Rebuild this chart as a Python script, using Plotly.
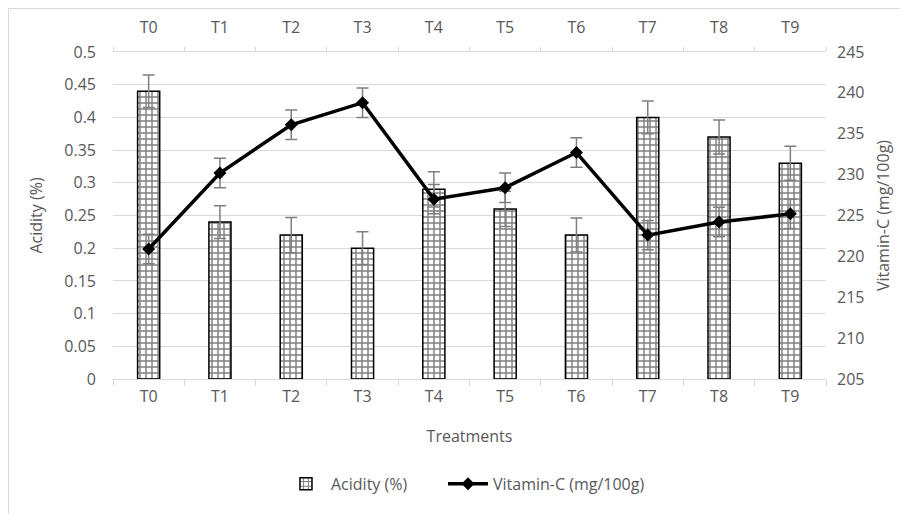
import plotly.graph_objects as go

treatments = ["T0", "T1", "T2", "T3", "T4", "T5", "T6", "T7", "T8", "T9"]
acidity = [0.44, 0.24, 0.22, 0.20, 0.29, 0.26, 0.22, 0.40, 0.37, 0.33]
acidity_err = [0.025, 0.025, 0.027, 0.025, 0.027, 0.027, 0.026, 0.025, 0.026, 0.026]
vitamin_c = [220.9, 230.2, 236.1, 238.8, 227.0, 228.4, 232.7, 222.6, 224.2, 225.2]
vitamin_err = [1.8, 1.8, 1.8, 1.8, 1.8, 1.8, 1.8, 1.8, 1.8, 1.8]

left_ticks = [0, 0.05, 0.1, 0.15, 0.2, 0.25, 0.3, 0.35, 0.4, 0.45, 0.5]
left_labels = ["0", "0.05", "0.1", "0.15", "0.2", "0.25", "0.3", "0.35", "0.4", "0.45", "0.5"]
right_ticks = [205, 210, 215, 220, 225, 230, 235, 240, 245]
right_labels = ["205", "210", "215", "220", "225", "230", "235", "240", "245"]

GRAY = "#595959"
GRID = "#d9d9d9"
ERR = "#7f7f7f"
FONT = dict(family="'Open Sans', Lato, sans-serif", size=16, color=GRAY)

fig = go.Figure()
fig.add_trace(go.Bar(
    x=treatments, y=acidity, name="Acidity (%)",
    marker=dict(color="white", line=dict(color="black", width=1.5),
                pattern=dict(shape="+", size=6, solidity=0.42, fgcolor="black", bgcolor="white")),
    error_y=dict(type="data", array=acidity_err, color=ERR, thickness=1.5, width=6),
    xaxis="x", yaxis="y", legend="legend",
))
fig.add_trace(go.Scatter(
    x=treatments, y=vitamin_c, name="Vitamin-C (mg/100g)", mode="lines+markers",
    line=dict(color="black", width=3.5),
    marker=dict(symbol="diamond", size=10, color="black"),
    error_y=dict(type="data", array=vitamin_err, color=ERR, thickness=1.5, width=6),
    xaxis="x2", yaxis="y2", legend="legend2",
))

fig.update_layout(
    width=908, height=514,
    margin=dict(l=105, r=90, t=44, b=143),
    paper_bgcolor="white", plot_bgcolor="white",
    font=FONT,
    bargap=0.69,
    showlegend=True,
    legend=dict(orientation="h", x=0.2356, xanchor="left", y=-0.321, yanchor="middle",
                font=FONT, itemwidth=40),
    legend2=dict(orientation="h", x=0.4628, xanchor="left", y=-0.321, yanchor="middle",
                 font=FONT, itemwidth=40),
    xaxis=dict(
        categoryorder="array", categoryarray=treatments, range=[-0.5, 9.5],
        showline=True, linecolor=GRID, linewidth=1,
        ticks="outside", tickson="boundaries", ticklen=6, tickcolor=GRID,
        ticklabelstandoff=3, showgrid=False, automargin=False,
        title=dict(text="Treatments", standoff=24, font=FONT),
        tickfont=FONT,
    ),
    xaxis2=dict(
        overlaying="x", side="top", matches="x",
        categoryorder="array", categoryarray=treatments, range=[-0.5, 9.5],
        showline=True, linecolor=GRID, linewidth=1,
        ticks="outside", tickson="boundaries", ticklen=4, tickcolor=GRID,
        ticklabelstandoff=12, showgrid=False, tickfont=FONT, automargin=False,
    ),
    yaxis=dict(
        range=[0, 0.5], tickvals=left_ticks, ticktext=left_labels,
        showgrid=True, gridcolor=GRID, gridwidth=1, zeroline=False, showline=False,
        ticks="", ticklabelstandoff=16, automargin=False,
        title=dict(text="Acidity (%)", standoff=17, font=FONT), tickfont=FONT,
    ),
    yaxis2=dict(
        overlaying="y", side="right", range=[205, 245],
        tickvals=right_ticks, ticktext=right_labels,
        showgrid=False, zeroline=False, showline=False, ticks="",
        ticklabelstandoff=10, automargin=False,
        title=dict(text="Vitamin-C (mg/100g)", standoff=14, font=FONT), tickfont=FONT,
    ),
    shapes=[dict(type="rect", xref="paper", yref="paper",
                 x0=-0.1466, x1=1.3, y0=-0.6, y1=1.1330,
                 line=dict(color=GRID, width=1), fillcolor="rgba(0,0,0,0)", layer="below")],
)

fig.write_html("out.html")
